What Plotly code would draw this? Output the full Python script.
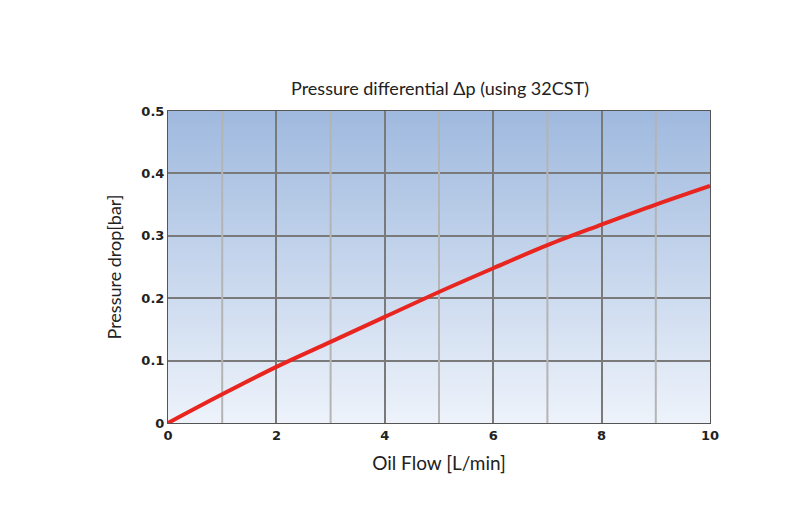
import base64
import struct
import zlib
import plotly.graph_objects as go

# data
flow = [0, 1, 2, 3, 4, 5, 6, 7, 8, 9, 10]
pressure = [0, 0.046, 0.09, 0.13, 0.17, 0.21, 0.248, 0.285, 0.318, 0.35, 0.38]
minor_x = [1, 3, 5, 7, 9]


def gradient_png(top, bottom, h=128):
    # tiny 1-px-wide vertical gradient, used as the plot background
    rows = b''
    for i in range(h):
        t = i / (h - 1)
        px = bytes(int(top[k] + (bottom[k] - top[k]) * t) for k in range(3))
        rows += b'\x00' + px
    def chunk(tag, data):
        return struct.pack('>I', len(data)) + tag + data + struct.pack('>I', zlib.crc32(tag + data))
    png = b'\x89PNG\r\n\x1a\n' + chunk(b'IHDR', struct.pack('>IIBBBBB', 1, h, 8, 2, 0, 0, 0))
    png += chunk(b'IDAT', zlib.compress(rows)) + chunk(b'IEND', b'')
    return 'data:image/png;base64,' + base64.b64encode(png).decode()


fig = go.Figure()
fig.add_trace(go.Scatter(x=flow, y=pressure, mode='lines', line=dict(color='#e8251f', width=4,
                         shape='spline'), showlegend=False))

fig.add_layout_image(source=gradient_png((160, 186, 223), (238, 243, 251)), xref='x', yref='y',
                     x=0, y=0.5, sizex=10, sizey=0.5, sizing='stretch', layer='below')
for xv in minor_x:
    fig.add_shape(type='line', x0=xv, x1=xv, y0=0, y1=0.5, layer='between',
                  line=dict(color='#b4b4b4', width=2))

fig.update_layout(
    width=800, height=530,
    margin=dict(l=160, r=98, t=103, b=115),
    paper_bgcolor='white', plot_bgcolor='rgba(0,0,0,0)',
    font=dict(family='Lato, DejaVu Sans', color='#222'),
    title=dict(text='Pressure differential Δp (using 32CST)', x=0.54, y=0.86, xanchor='center',
               font=dict(size=18)),
)
fig.update_xaxes(range=[0, 10], dtick=2, showgrid=True, gridcolor='#7a7a7a', gridwidth=2,
                 zeroline=False, showline=True, linecolor='#555', mirror=True, automargin=False,
                 tickfont=dict(size=13, family='DejaVu Sans', weight='bold'),
                 title=dict(text='Oil Flow [L/min]', font=dict(size=19)))
fig.update_yaxes(range=[0, 0.5], dtick=0.1, showgrid=True, gridcolor='#7a7a7a', gridwidth=2,
                 zeroline=False, showline=True, linecolor='#555', mirror=True, automargin=False,
                 tickfont=dict(size=13, family='DejaVu Sans', weight='bold'), tickformat='.1~f',
                 title=dict(text='Pressure drop[bar]', font=dict(size=18)))
fig.write_html("out.html")
